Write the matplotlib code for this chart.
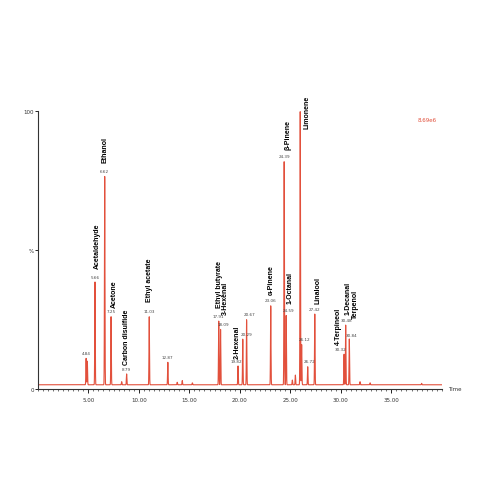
import numpy as np
import matplotlib
matplotlib.use("Agg")
import matplotlib.pyplot as plt

# retention times (min) and relative heights (%) of the labelled peaks
peak_times = [4.78, 4.90, 5.66, 6.62, 7.25, 8.79, 11.03, 12.87,
              17.91, 18.09, 19.82, 20.29, 20.67, 23.06, 24.39, 24.59,
              25.98, 26.12, 26.72, 27.42, 30.32, 30.48, 30.84]
peak_heights = [11.0, 10.0, 38.5, 76.5, 26.0, 5.4, 26.0, 9.6,
                24.5, 21.5, 8.3, 18.0, 25.0, 30.0, 82.0, 26.5,
                100.0, 16.0, 8.0, 27.0, 12.5, 23.0, 18.0]
# small unlabelled peaks
minor_times = [8.30, 13.80, 14.30, 15.30, 25.20, 25.50, 31.90, 32.90, 38.00]
minor_heights = [2.6, 2.4, 3.0, 2.2, 3.2, 5.0, 2.6, 2.2, 2.0]
baseline = 1.5

# retention-time labels: (x, y, text)
rt_labels = [(4.84, 11.0, "4.84"), (5.66, 38.5, "5.66"), (6.62, 76.5, "6.62"),
             (7.25, 26.0, "7.25"), (8.79, 5.4, "8.79"), (11.03, 26.0, "11.03"),
             (12.87, 9.6, "12.87"), (17.85, 24.5, "17.91"), (18.35, 21.5, "18.09"),
             (19.70, 8.3, "19.82"), (20.65, 18.0, "20.29"), (21.00, 25.0, "20.67"),
             (23.06, 30.0, "23.06"), (24.39, 82.0, "24.39"), (24.85, 26.5, "24.59"),
             (26.40, 16.0, "26.12"), (26.95, 8.0, "26.72"), (27.42, 27.0, "27.42"),
             (29.95, 12.5, "30.32"), (30.60, 23.0, "30.48"), (31.05, 17.5, "30.84")]

# compound names: (x, bottom y, text)
names = [(5.85, 43.5, "Acetaldehyde"), (6.62, 81.5, "Ethanol"),
         (7.55, 29.5, "Acetone"), (8.79, 9.0, "Carbon disulfide"),
         (11.05, 31.5, "Ethyl acetate"), (17.95, 29.5, "Ethyl butyrate"),
         (18.55, 27.0, "3-Hexenal"), (19.70, 11.0, "2-Hexenal"),
         (23.15, 34.0, "α-Pinene"), (24.75, 86.5, "β-Pinene"),
         (26.65, 94.0, "Limonene"), (24.95, 31.0, "1-Octanal"),
         (27.72, 31.0, "Linalool"), (29.75, 16.2, "4-Terpineol"),
         (30.72, 27.0, "1-Decanal"), (31.40, 25.5, "Terpenol")]

t = np.linspace(0, 40, 8000)
trace = np.full_like(t, baseline)
for pt, ph in zip(peak_times + minor_times, peak_heights + minor_heights):
    trace += (ph - baseline) * np.exp(-0.5 * ((t - pt) / 0.025) ** 2)

fig = plt.figure(figsize=(4.85, 4.85), dpi=100)
ax = fig.add_axes([0.078, 0.196, 0.833, 0.573])
ax.plot(t, trace, color="#e2503c", lw=0.8)
ax.set_xlim(0, 40)
ax.set_ylim(0, 100)

for s in ["top", "right"]:
    ax.spines[s].set_visible(False)
for s in ["left", "bottom"]:
    ax.spines[s].set_color("#333333")
    ax.spines[s].set_linewidth(0.8)

ax.set_xticks([5, 10, 15, 20, 25, 30, 35])
ax.set_xticklabels(["5.00", "10.00", "15.00", "20.00", "25.00", "30.00", "35.00"],
                   fontsize=4, color="#333333")
ax.set_xticks(np.arange(0, 40.01, 0.5), minor=True)
ax.tick_params(axis="x", which="major", length=3, width=0.6, pad=3)
ax.tick_params(axis="x", which="minor", length=1.5, width=0.4)
ax.set_yticks([0, 50, 100])
ax.set_yticklabels(["0", "%", "100"], fontsize=4, color="#333333")
ax.tick_params(axis="y", length=2, width=0.6, pad=1)

ax.text(40.6, 0, "Time", fontsize=4, va="center", ha="left", color="#333333")
ax.text(39.5, 97, "8.69e6", fontsize=4, color="#e2503c", ha="right", va="center")

for x, h, s in rt_labels:
    ax.text(x, h + 1.2, s, fontsize=3, ha="center", va="bottom", color="#444444")
for x, y, s in names:
    ax.text(x, y, s, fontsize=5, rotation=90, ha="center", va="bottom",
            fontweight="bold", family=["Liberation Sans", "DejaVu Sans"],
            clip_on=False)

fig.savefig("out.png", dpi=100)
